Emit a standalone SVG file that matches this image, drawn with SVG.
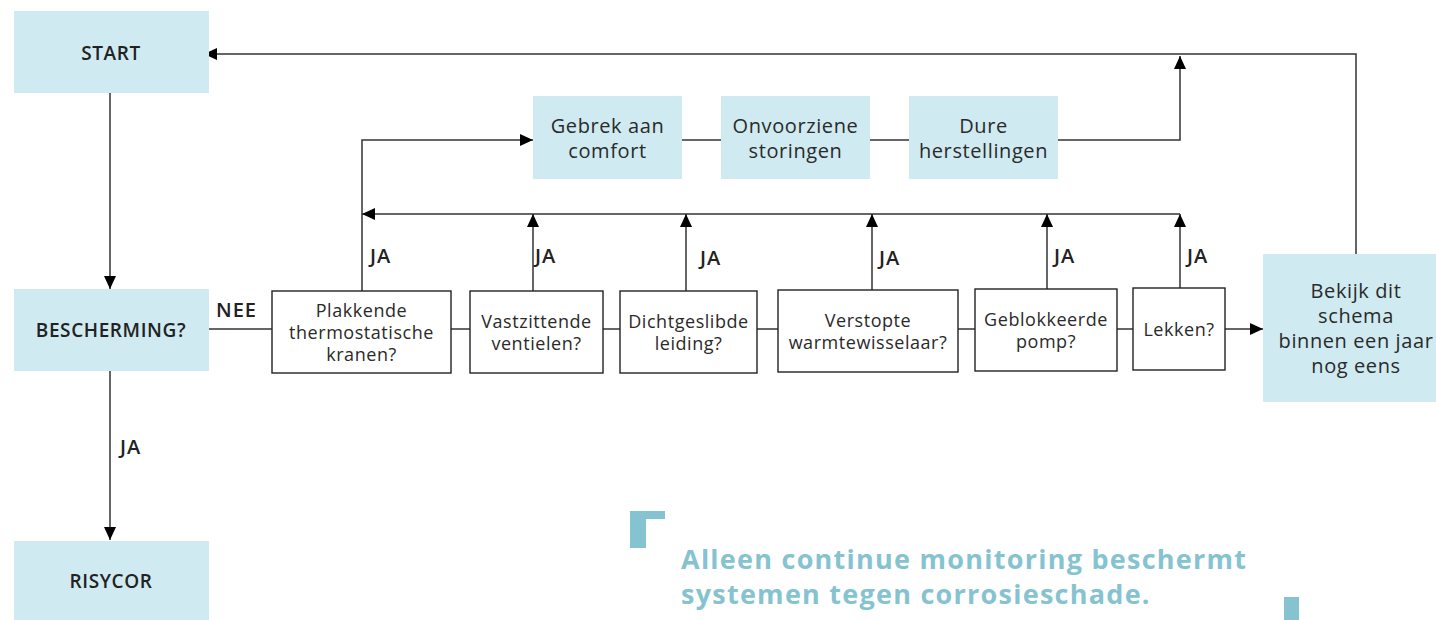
<svg xmlns="http://www.w3.org/2000/svg" width="1436" height="620" viewBox="0 0 1436 620">
<style>
.blue{fill:#cfebf1}
.wbox{fill:#fff;stroke:#222;stroke-width:1.4}
.t{font-family:"Open Sans","Liberation Sans",sans-serif;fill:#2a2a2a;text-anchor:middle}
.tm{font-size:20px;letter-spacing:0.6px}
.tb{font-size:18px;letter-spacing:0.55px}
.cap{font-family:"Open Sans","Liberation Sans",sans-serif;font-size:19px;font-weight:600;fill:#222;text-anchor:middle;letter-spacing:0.6px}
.lbl{font-family:"Open Sans","Liberation Sans",sans-serif;font-size:20px;font-weight:600;fill:#222;letter-spacing:1px}
.ln{fill:none;stroke:#333;stroke-width:1.5}
.quote{font-family:"Open Sans","Liberation Sans",sans-serif;font-size:27px;font-weight:700;fill:#86c3d0;letter-spacing:1.25px}
</style>
<defs>
<marker id="ah" viewBox="0 0 13 12" refX="13" refY="6" markerWidth="13" markerHeight="12" markerUnits="userSpaceOnUse" orient="auto">
<path d="M0,0 L13,6 L0,12 z" fill="#000"/>
</marker>
</defs>
<rect width="1436" height="620" fill="#fff"/>
<g id="connectors">
<path class="ln" d="M1356,254 V54 H204" marker-end="url(#ah)"/>
<path class="ln" d="M110,93 V289" marker-end="url(#ah)"/>
<path class="ln" d="M110,371 V540" marker-end="url(#ah)"/>
<path class="ln" d="M208,329 H272"/>
<path class="ln" d="M451,329 H470"/>
<path class="ln" d="M603,329 H620"/>
<path class="ln" d="M757,329 H778"/>
<path class="ln" d="M958,329 H975"/>
<path class="ln" d="M1117,329 H1133"/>
<path class="ln" d="M1225,329 H1263" marker-end="url(#ah)"/>
<path class="ln" d="M362,291 V140 H533" marker-end="url(#ah)"/>
<path class="ln" d="M1180,214 H362" marker-end="url(#ah)"/>
<path class="ln" d="M533,291 V214" marker-end="url(#ah)"/>
<path class="ln" d="M686,291 V214" marker-end="url(#ah)"/>
<path class="ln" d="M872,290 V214" marker-end="url(#ah)"/>
<path class="ln" d="M1047,289 V214" marker-end="url(#ah)"/>
<path class="ln" d="M1180,288 V214" marker-end="url(#ah)"/>
<path class="ln" d="M682,140 H721"/>
<path class="ln" d="M870,140 H909"/>
<path class="ln" d="M1058,140 H1180 V56" marker-end="url(#ah)"/>
<text class="lbl" x="216" y="317">NEE</text>
<text class="lbl" x="120" y="454">JA</text>
<text class="lbl" x="370" y="263">JA</text>
<text class="lbl" x="535" y="263">JA</text>
<text class="lbl" x="700" y="265">JA</text>
<text class="lbl" x="879" y="265">JA</text>
<text class="lbl" x="1054" y="263">JA</text>
<text class="lbl" x="1187" y="263">JA</text>
</g>
<g id="start"><rect class="blue" x="14" y="11" width="195" height="82"/><text class="cap" x="111" y="60">START</text></g>
<g id="bescherming"><rect class="blue" x="14" y="289" width="195" height="82"/><text class="cap" x="111" y="337">BESCHERMING?</text></g>
<g id="risycor"><rect class="blue" x="14" y="541" width="195" height="79"/><text class="cap" x="111" y="588">RISYCOR</text></g>
<g id="gebrek"><rect class="blue" x="533" y="96" width="149" height="83"/><text class="t tm" x="607.5" y="133">Gebrek aan</text><text class="t tm" x="607.5" y="158">comfort</text></g>
<g id="onvoorziene"><rect class="blue" x="721" y="96" width="149" height="83"/><text class="t tm" x="795.5" y="133">Onvoorziene</text><text class="t tm" x="795.5" y="158">storingen</text></g>
<g id="dure"><rect class="blue" x="909" y="96" width="149" height="83"/><text class="t tm" x="983.5" y="133">Dure</text><text class="t tm" x="983.5" y="158">herstellingen</text></g>
<g id="bekijk"><rect class="blue" x="1263" y="254" width="173" height="148"/><text class="t tm" x="1356" y="298">Bekijk dit</text><text class="t tm" x="1356" y="323">schema</text><text class="t tm" x="1356" y="348">binnen een jaar</text><text class="t tm" x="1356" y="373">nog eens</text></g>
<g id="plakkende"><rect class="wbox" x="272" y="291" width="179" height="82"/><text class="t tb" x="361.5" y="317">Plakkende</text><text class="t tb" x="361.5" y="339">thermostatische</text><text class="t tb" x="361.5" y="361">kranen?</text></g>
<g id="vastzittende"><rect class="wbox" x="470" y="291" width="133" height="82"/><text class="t tb" x="536.5" y="328">Vastzittende</text><text class="t tb" x="536.5" y="350">ventielen?</text></g>
<g id="dichtgeslibde"><rect class="wbox" x="620" y="291" width="137" height="82"/><text class="t tb" x="688.5" y="328">Dichtgeslibde</text><text class="t tb" x="688.5" y="350">leiding?</text></g>
<g id="verstopte"><rect class="wbox" x="778" y="290" width="180" height="82"/><text class="t tb" x="868" y="327">Verstopte</text><text class="t tb" x="868" y="349">warmtewisselaar?</text></g>
<g id="geblokkeerde"><rect class="wbox" x="975" y="289" width="142" height="82"/><text class="t tb" x="1046" y="326">Geblokkeerde</text><text class="t tb" x="1046" y="348">pomp?</text></g>
<g id="lekken"><rect class="wbox" x="1133" y="288" width="92" height="82"/><text class="t tb" x="1179" y="336">Lekken?</text></g>
<g id="quote">
<path d="M630,511 H665 V519 H646 V548 H630 Z" fill="#86c3d0"/>
<rect x="1284" y="597" width="15" height="23" fill="#86c3d0"/>
<text class="quote" x="681" y="569">Alleen continue monitoring beschermt</text>
<text class="quote" x="681" y="604">systemen tegen corrosieschade.</text>
</g>
</svg>
